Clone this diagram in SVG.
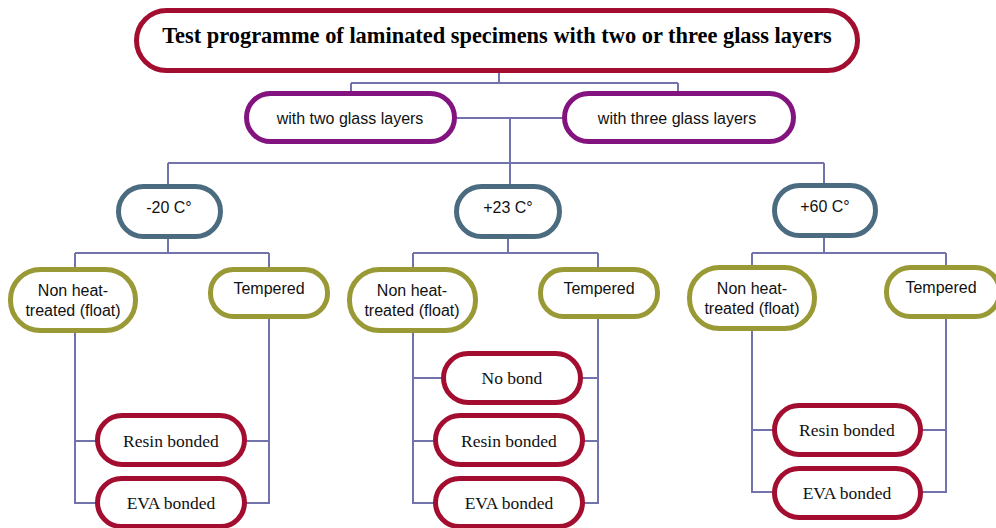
<svg xmlns="http://www.w3.org/2000/svg" width="996" height="528" viewBox="0 0 996 528">
<style>
.n rect{fill:#fff;stroke-width:5}
.red rect{stroke:#A30D2F}
.pur rect{stroke:#83137F}
.sla rect{stroke:#4B6C80}
.oli rect{stroke:#999A35}
.sans{font-family:"Liberation Sans",Arial,sans-serif;font-size:16px;fill:#111;text-anchor:middle}
.ser{font-family:"Liberation Serif","Times New Roman",serif;font-size:17.5px;fill:#111;text-anchor:middle}
.title{font-family:"Liberation Serif","Times New Roman",serif;font-size:22.4px;font-weight:bold;fill:#000;text-anchor:middle}
#connectors path{fill:none;stroke:#7272AC;stroke-width:2}
</style>
<rect width="996" height="528" fill="#fff"/>
<g id="connectors">
<path d="M499,73 V83 M351,83 H678 M351,83 V92 M678,83 V92"/>
<path d="M457,118 H562 M510,118 V185 M168,163 H824 M168,163 V185 M824,163 V184"/>
<path d="M168,239 V253 M75,253 H269 M75,253 V268 M269,253 V268"/>
<path d="M75,333 V503 H97 M75,441 H97 M269,318 V503 H245 M269,441 H245"/>
<path d="M508,239 V253 M413,253 H598 M413,253 V268 M598,253 V268"/>
<path d="M413,333 V503 H435 M413,441 H435 M413,378 H443 M598,318 V503 H583 M598,441 H583 M598,378 H581"/>
<path d="M824,238 V253 M752,253 H946 M752,253 V266 M946,253 V266"/>
<path d="M752,331 V492 H774 M752,430 H774 M946,318 V492 H921 M946,430 H921"/>
</g>
<g id="root" class="n red"><rect x="136.5" y="10.5" width="721" height="60" rx="30"/><text class="title" x="497" y="43">Test programme of laminated specimens with two or three glass layers</text></g>
<g id="two" class="n pur"><rect x="246.5" y="93.5" width="208" height="48" rx="24"/><text class="sans" x="350" y="124">with two glass layers</text></g>
<g id="three" class="n pur"><rect x="564.5" y="93.5" width="229" height="48" rx="24"/><text class="sans" x="677" y="124">with three glass layers</text></g>
<g id="tm20" class="n sla"><rect x="118.5" y="186.5" width="102" height="50" rx="25"/><text class="sans" x="169" y="213">-20 C°</text></g>
<g id="tp23" class="n sla"><rect x="456.5" y="186.5" width="103" height="50" rx="25"/><text class="sans" x="508" y="213">+23 C°</text></g>
<g id="tp60" class="n sla"><rect x="774.5" y="185.5" width="101" height="50" rx="25"/><text class="sans" x="825" y="212">+60 C°</text></g>
<g id="float1" class="n oli"><rect x="10.5" y="269.5" width="125" height="61" rx="30"/><text class="sans" x="73" y="296">Non heat-</text><text class="sans" x="73" y="316">treated (float)</text></g>
<g id="temp1" class="n oli"><rect x="210.5" y="269.5" width="117" height="47" rx="23"/><text class="sans" x="269" y="294">Tempered</text></g>
<g id="float2" class="n oli"><rect x="349.5" y="269.5" width="126" height="61" rx="30"/><text class="sans" x="412" y="296">Non heat-</text><text class="sans" x="412" y="316">treated (float)</text></g>
<g id="temp2" class="n oli"><rect x="540.5" y="269.5" width="117" height="47" rx="23"/><text class="sans" x="599" y="294">Tempered</text></g>
<g id="float3" class="n oli"><rect x="689.5" y="267.5" width="125" height="61" rx="30"/><text class="sans" x="752" y="294">Non heat-</text><text class="sans" x="752" y="314">treated (float)</text></g>
<g id="temp3" class="n oli"><rect x="886.5" y="267.5" width="113" height="49" rx="24"/><text class="sans" x="941" y="293">Tempered</text></g>
<g id="resin1" class="n red"><rect x="97.5" y="415.5" width="147" height="49" rx="24.5"/><text class="ser" x="171" y="447">Resin bonded</text></g>
<g id="eva1" class="n red"><rect x="97.5" y="478.5" width="147" height="48" rx="24"/><text class="ser" x="171" y="509">EVA bonded</text></g>
<g id="nobond2" class="n red"><rect x="443.5" y="353.5" width="137" height="49" rx="24.5"/><text class="ser" x="512" y="384">No bond</text></g>
<g id="resin2" class="n red"><rect x="435.5" y="415.5" width="147" height="49" rx="24.5"/><text class="ser" x="509" y="447">Resin bonded</text></g>
<g id="eva2" class="n red"><rect x="435.5" y="478.5" width="147" height="48" rx="24"/><text class="ser" x="509" y="509">EVA bonded</text></g>
<g id="resin3" class="n red"><rect x="774.5" y="405.5" width="146" height="49" rx="24.5"/><text class="ser" x="847" y="436">Resin bonded</text></g>
<g id="eva3" class="n red"><rect x="774.5" y="468.5" width="146" height="49" rx="24.5"/><text class="ser" x="847" y="499">EVA bonded</text></g>
</svg>
